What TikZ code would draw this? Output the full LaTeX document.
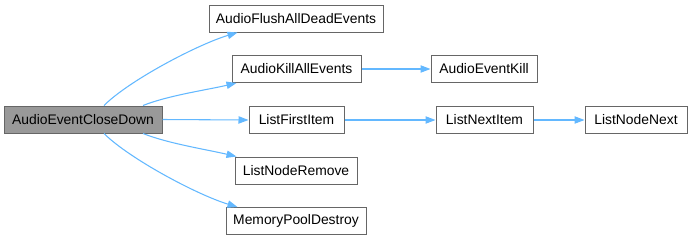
\documentclass[tikz,border=0pt]{standalone}
\usepackage{fontspec}
\setmainfont{Liberation Sans}
\usetikzlibrary{arrows.meta,calc}
\definecolor{edgeblue}{HTML}{63B8FF}
\definecolor{boxline}{HTML}{666666}
\definecolor{rootfill}{HTML}{999999}
\begin{document}
\begin{tikzpicture}[x=0.75pt,y=-0.75pt,
  fn/.style={draw=boxline, line width=0.75pt, fill=white, inner sep=0pt,
    minimum height=20.25pt, font=\fontsize{10.4}{12}\selectfont, text=black},
  root/.style={fn, fill=rootfill},
  call/.style={draw=edgeblue, line width=0.8pt,
    -{Triangle[length=7.5pt,width=5.5pt]}},
]
\useasboundingbox (0,0) rectangle (692,240);

% caller
\node[root, minimum width=118.5pt] (cd) at (83,119.5) {AudioEventCloseDown};

% direct callees
\node[fn, minimum width=130.5pt] (fl) at (296,18.5)  {AudioFlushAllDeadEvents};
\node[fn, minimum width=96.75pt] (kl) at (296.5,69)  {AudioKillAllEvents};
\node[fn, minimum width=71.25pt] (fi) at (296.5,120) {ListFirstItem};
\node[fn, minimum width=91.5pt]  (nr) at (296,170.5) {ListNodeRemove};
\node[fn, minimum width=105pt]   (mp) at (296,221)   {MemoryPoolDestroy};

% second and third level callees
\node[fn, minimum width=79.5pt]  (ek) at (484,69)    {AudioEventKill};
\node[fn, minimum width=72.75pt] (ni) at (484.5,120) {ListNextItem};
\node[fn, minimum width=76.5pt]  (nn) at (636,120)   {ListNodeNext};

% calls from AudioEventCloseDown
\draw[call] ($(cd.north)+(21,0)$) .. controls +(25,-25) and +(-40,12) .. ($(fl.south west)+(29,0)$);
\draw[call] ($(cd.north)+(60,0)$) .. controls +(25,-10) and +(-30,7) .. ($(kl.south west)+(5,0)$);
\draw[call] (cd.east) -- (fi.west);
\draw[call] ($(cd.south)+(60,0)$) .. controls +(25,10) and +(-30,-7) .. ($(nr.north west)+(2,0)$);
\draw[call] ($(cd.south)+(21,0)$) .. controls +(25,25) and +(-40,-12) .. ($(mp.north west)+(12,0)$);

% deeper calls
\draw[call] (kl.east) -- (ek.west);
\draw[call] (fi.east) -- (ni.west);
\draw[call] (ni.east) -- (nn.west);
\end{tikzpicture}
\end{document}
